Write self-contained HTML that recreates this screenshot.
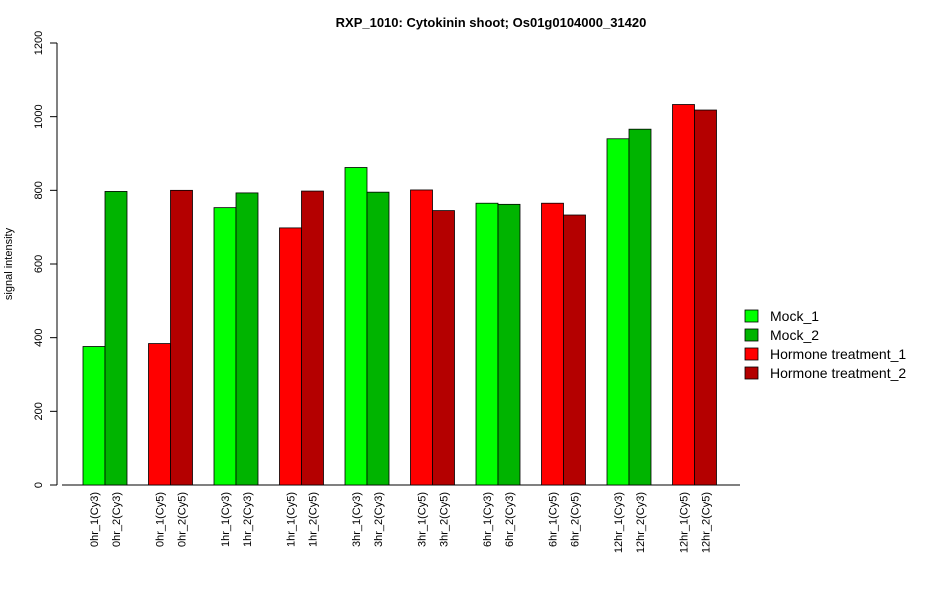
<!DOCTYPE html>
<html><head><meta charset="utf-8"><style>body{margin:0;background:#fff}svg{font-family:"Liberation Sans",sans-serif}</style></head>
<body>
<svg width="950" height="600">
<text x="491" y="27" text-anchor="middle" font-weight="bold" font-size="13">RXP_1010: Cytokinin shoot; Os01g0104000_31420</text>
<text transform="translate(12,264) rotate(-90)" text-anchor="middle" font-size="11">signal intensity</text>
<g id="axes"></g><g id="bars"></g><g id="legend"></g>
</svg>
<script>
const categories=["0hr_1(Cy3)","0hr_2(Cy3)","0hr_1(Cy5)","0hr_2(Cy5)","1hr_1(Cy3)","1hr_2(Cy3)","1hr_1(Cy5)","1hr_2(Cy5)","3hr_1(Cy3)","3hr_2(Cy3)","3hr_1(Cy5)","3hr_2(Cy5)","6hr_1(Cy3)","6hr_2(Cy3)","6hr_1(Cy5)","6hr_2(Cy5)","12hr_1(Cy3)","12hr_2(Cy3)","12hr_1(Cy5)","12hr_2(Cy5)"];
const values=[376,797,384,800,753,793,698,798,862,795,801,745,765,762,765,733,940,966,1033,1018];
const seriesIdx=[0,1,2,3,0,1,2,3,0,1,2,3,0,1,2,3,0,1,2,3];
const seriesNames=["Mock_1","Mock_2","Hormone treatment_1","Hormone treatment_2"];
const yTicks=[0,200,400,600,800,1000,1200];
const colors=["#00ff00","#00b400","#ff0000","#b40000"];
const NS="http://www.w3.org/2000/svg";
function mk(p,t,a){const e=document.createElementNS(NS,t);for(const k in a)e.setAttribute(k,a[k]);p.appendChild(e);return e;}
const y=v=>485-v*442/1200;
const x=i=>83+Math.floor(i/2)*65.5+(i%2)*22;
const ax=document.getElementById('axes'),bg=document.getElementById('bars'),lg=document.getElementById('legend');
let l=mk(ax,'line',{x1:57,x2:57,y1:y(0),y2:y(1200),stroke:'#000'});


yTicks.forEach(t=>{
 mk(ax,'line',{x1:50,x2:57,y1:y(t),y2:y(t),stroke:'#000'});
 const tx=mk(ax,'text',{transform:`translate(42,${y(t)}) rotate(-90)`,'text-anchor':'middle','font-size':11});
 tx.textContent=t;
 
 
});
l=mk(ax,'line',{x1:62,x2:740,y1:485,y2:485,stroke:'#000'});


values.forEach((v,i)=>{
 const r=mk(bg,'rect',{x:x(i),y:y(v),width:22,height:y(0)-y(v),fill:colors[seriesIdx[i]],stroke:'#000','stroke-width':0.8});
 
 
 const tx=mk(bg,'text',{transform:`translate(${x(i)+15},492) rotate(-90)`,'text-anchor':'end','font-size':11});
 tx.textContent=categories[i];
 
 
});
seriesNames.forEach((n,j)=>{
 const yy=310+j*19;
 const r=mk(lg,'rect',{x:745,y:yy,width:13,height:12,fill:colors[j],stroke:'#000','stroke-width':0.8});
 
 
 const tx=mk(lg,'text',{x:770,y:yy+11,'font-size':14});
 tx.textContent=n;
 
 
});
</script>
</body></html>
